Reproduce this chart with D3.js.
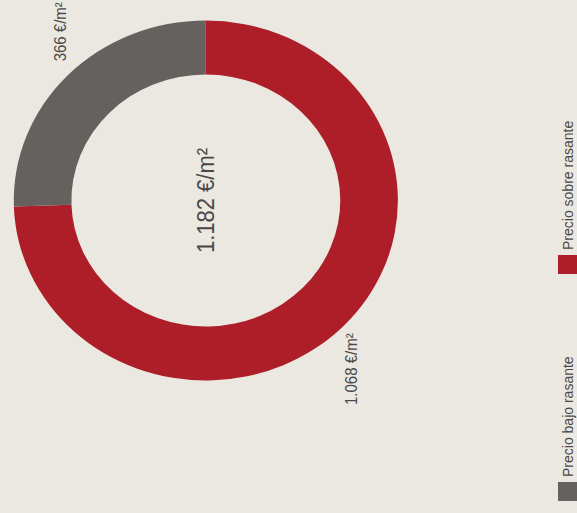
<!doctype html>
<html lang="es">
<head>
<meta charset="utf-8">
<title>Precio medio</title>
<script src="https://cdn.jsdelivr.net/npm/d3@7"></script>
<style>
  html, body { margin: 0; padding: 0; background: #ebe8e2; }
  svg { display: block; }
  text { font-family: "Liberation Sans", Arial, sans-serif; fill: #4a4846; }
</style>
</head>
<body>
<script>

// Data
var categories = ["Precio sobre rasante", "Precio bajo rasante"];
var values = [1068, 366];
var colors = ["#ad1e28", "#64615e"];
var centerValue = 1182;
var unit = " €/m²";

// Spanish number format (1.068)
var es = d3.formatLocale({decimal: ",", thousands: ".", grouping: [3], currency: ["", "€"]});
var fmt = es.format(",d");

// Graphics
var outerWidth = 577;
var outerHeight = 513;
var stretchX = 1.067;          // picture is slightly wider than tall
var cx = 192.9, cy = 200.5;
var outerR = 180, innerR = 126;
var labelShift = 7 * Math.PI / 180;   // labels sit a bit clockwise of the slice middle

var svg = d3.select("body").append("svg")
  .attr("width", outerWidth)
  .attr("height", outerHeight);

svg.append("rect")
  .attr("width", outerWidth)
  .attr("height", outerHeight)
  .attr("fill", "#ebe8e2");

var dataset = categories.map(function(c, i) {
  return {name: c, value: values[i], color: colors[i]};
});

var pie = d3.pie()
  .sort(null)
  .value(function(d) { return d.value; });

var arc = d3.arc()
  .innerRadius(innerR)
  .outerRadius(outerR);

var labelArc = d3.arc()
  .innerRadius(outerR * 1.205)
  .outerRadius(outerR * 1.205);

var g = svg.append("g")
  .attr("transform", "scale(" + stretchX + ",1) translate(" + cx + "," + cy + ")");

var arcs = pie(dataset);

g.selectAll("path")
  .data(arcs)
  .enter()
  .append("path")
  .attr("d", arc)
  .attr("fill", function(d) { return d.data.color; });

// value labels (rotated, read bottom to top)
g.selectAll("text.val")
  .data(arcs)
  .enter()
  .append("text")
  .attr("class", "val")
  .attr("transform", function(d) {
    var c = labelArc.centroid({startAngle: d.startAngle + labelShift, endAngle: d.endAngle + labelShift});
    return "translate(" + c[0] + "," + c[1] + ") rotate(-90)";
  })
  .attr("text-anchor", "middle")
  .attr("dominant-baseline", "central")
  .attr("font-size", "15px")
  .text(function(d) { return fmt(d.data.value) + unit; });

// center total
g.append("text")
  .attr("transform", "rotate(-90)")
  .attr("text-anchor", "middle")
  .attr("dominant-baseline", "central")
  .attr("font-size", "22px")
  .text(fmt(centerValue) + unit);

// Legend
var legendY = d3.scalePoint()
  .domain(categories)
  .range([255, 482]);

var legend = svg.selectAll("g.legend")
  .data(dataset)
  .enter()
  .append("g")
  .attr("class", "legend")
  .attr("transform", function(d) { return "translate(558," + legendY(d.name) + ")"; });

legend.append("rect")
  .attr("width", 20)
  .attr("height", 19)
  .attr("fill", function(d) { return d.color; });

legend.append("text")
  .attr("transform", "translate(10,-5) rotate(-90)")
  .attr("text-anchor", "start")
  .attr("dominant-baseline", "central")
  .attr("font-size", "14px")
  .text(function(d) { return d.name; });

</script>
</body>
</html>
